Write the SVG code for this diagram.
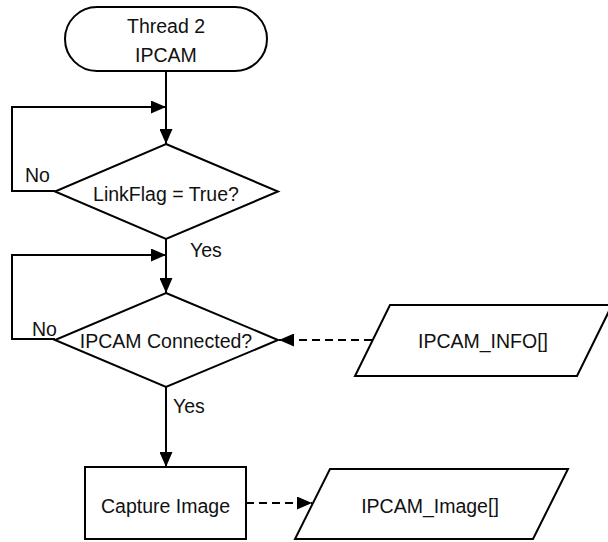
<svg xmlns="http://www.w3.org/2000/svg" width="608" height="542" viewBox="0 0 608 542">
  <style>
    .shape { fill: #ffffff; stroke: #000000; stroke-width: 2; stroke-linejoin: miter; }
    .line { fill: none; stroke: #000000; stroke-width: 2; }
    .dashed { stroke-dasharray: 8 5; }
    .label { font-family: "Liberation Sans", Arial, sans-serif; font-size: 19.5px; fill: #111111; }
    .mid { text-anchor: middle; }
  </style>
  <defs>
    <marker id="arrow" markerUnits="userSpaceOnUse" markerWidth="15" markerHeight="13" refX="15" refY="6.5" orient="auto">
      <path d="M0,0 L15,6.5 L0,13 Z" fill="#000000"/>
    </marker>
  </defs>

  <rect width="608" height="542" fill="#ffffff"/>

  <!-- connectors -->
  <g id="connectors">
    <path class="line" d="M166,71 V144" marker-end="url(#arrow)"/>
    <path class="line" d="M55,191 H12 V107 H166" marker-end="url(#arrow)"/>
    <path class="line" d="M166,239 V293" marker-end="url(#arrow)"/>
    <path class="line" d="M55,339 H12 V255 H166" marker-end="url(#arrow)"/>
    <path class="line" d="M166,387 V467" marker-end="url(#arrow)"/>
    <path class="line dashed" d="M372,340 H279" marker-end="url(#arrow)"/>
    <path class="line dashed" d="M246,503 H312" marker-end="url(#arrow)"/>
    <text class="label" x="25" y="182">No</text>
    <text class="label" x="190" y="257">Yes</text>
    <text class="label" x="32" y="336">No</text>
    <text class="label" x="173" y="413">Yes</text>
  </g>

  <!-- start terminator -->
  <g id="start">
    <rect class="shape" x="65" y="7" width="202" height="64" rx="32" ry="32"/>
    <text class="label mid" x="166" y="33">Thread 2</text>
    <text class="label mid" x="166" y="62">IPCAM</text>
  </g>

  <!-- decision: link flag -->
  <g id="linkflag">
    <polygon class="shape" points="166,144 278,191.5 166,239 55,191.5"/>
    <text class="label mid" x="166" y="201">LinkFlag = True?</text>
  </g>

  <!-- decision: camera connected -->
  <g id="connected">
    <polygon class="shape" points="166,293 278,340 166,387 55,340"/>
    <text class="label mid" x="166" y="348">IPCAM Connected?</text>
  </g>

  <!-- data input -->
  <g id="ipcam-info">
    <polygon class="shape" points="390,305 612,305 577,376 355,376"/>
    <text class="label mid" x="483" y="348">IPCAM_INFO[]</text>
  </g>

  <!-- process -->
  <g id="capture">
    <rect class="shape" x="85" y="467" width="161" height="72"/>
    <text class="label mid" x="165.5" y="513">Capture Image</text>
  </g>

  <!-- data output -->
  <g id="ipcam-image">
    <polygon class="shape" points="330,469 568,469 533,539 295,539"/>
    <text class="label mid" x="430" y="513">IPCAM_Image[]</text>
  </g>
</svg>
